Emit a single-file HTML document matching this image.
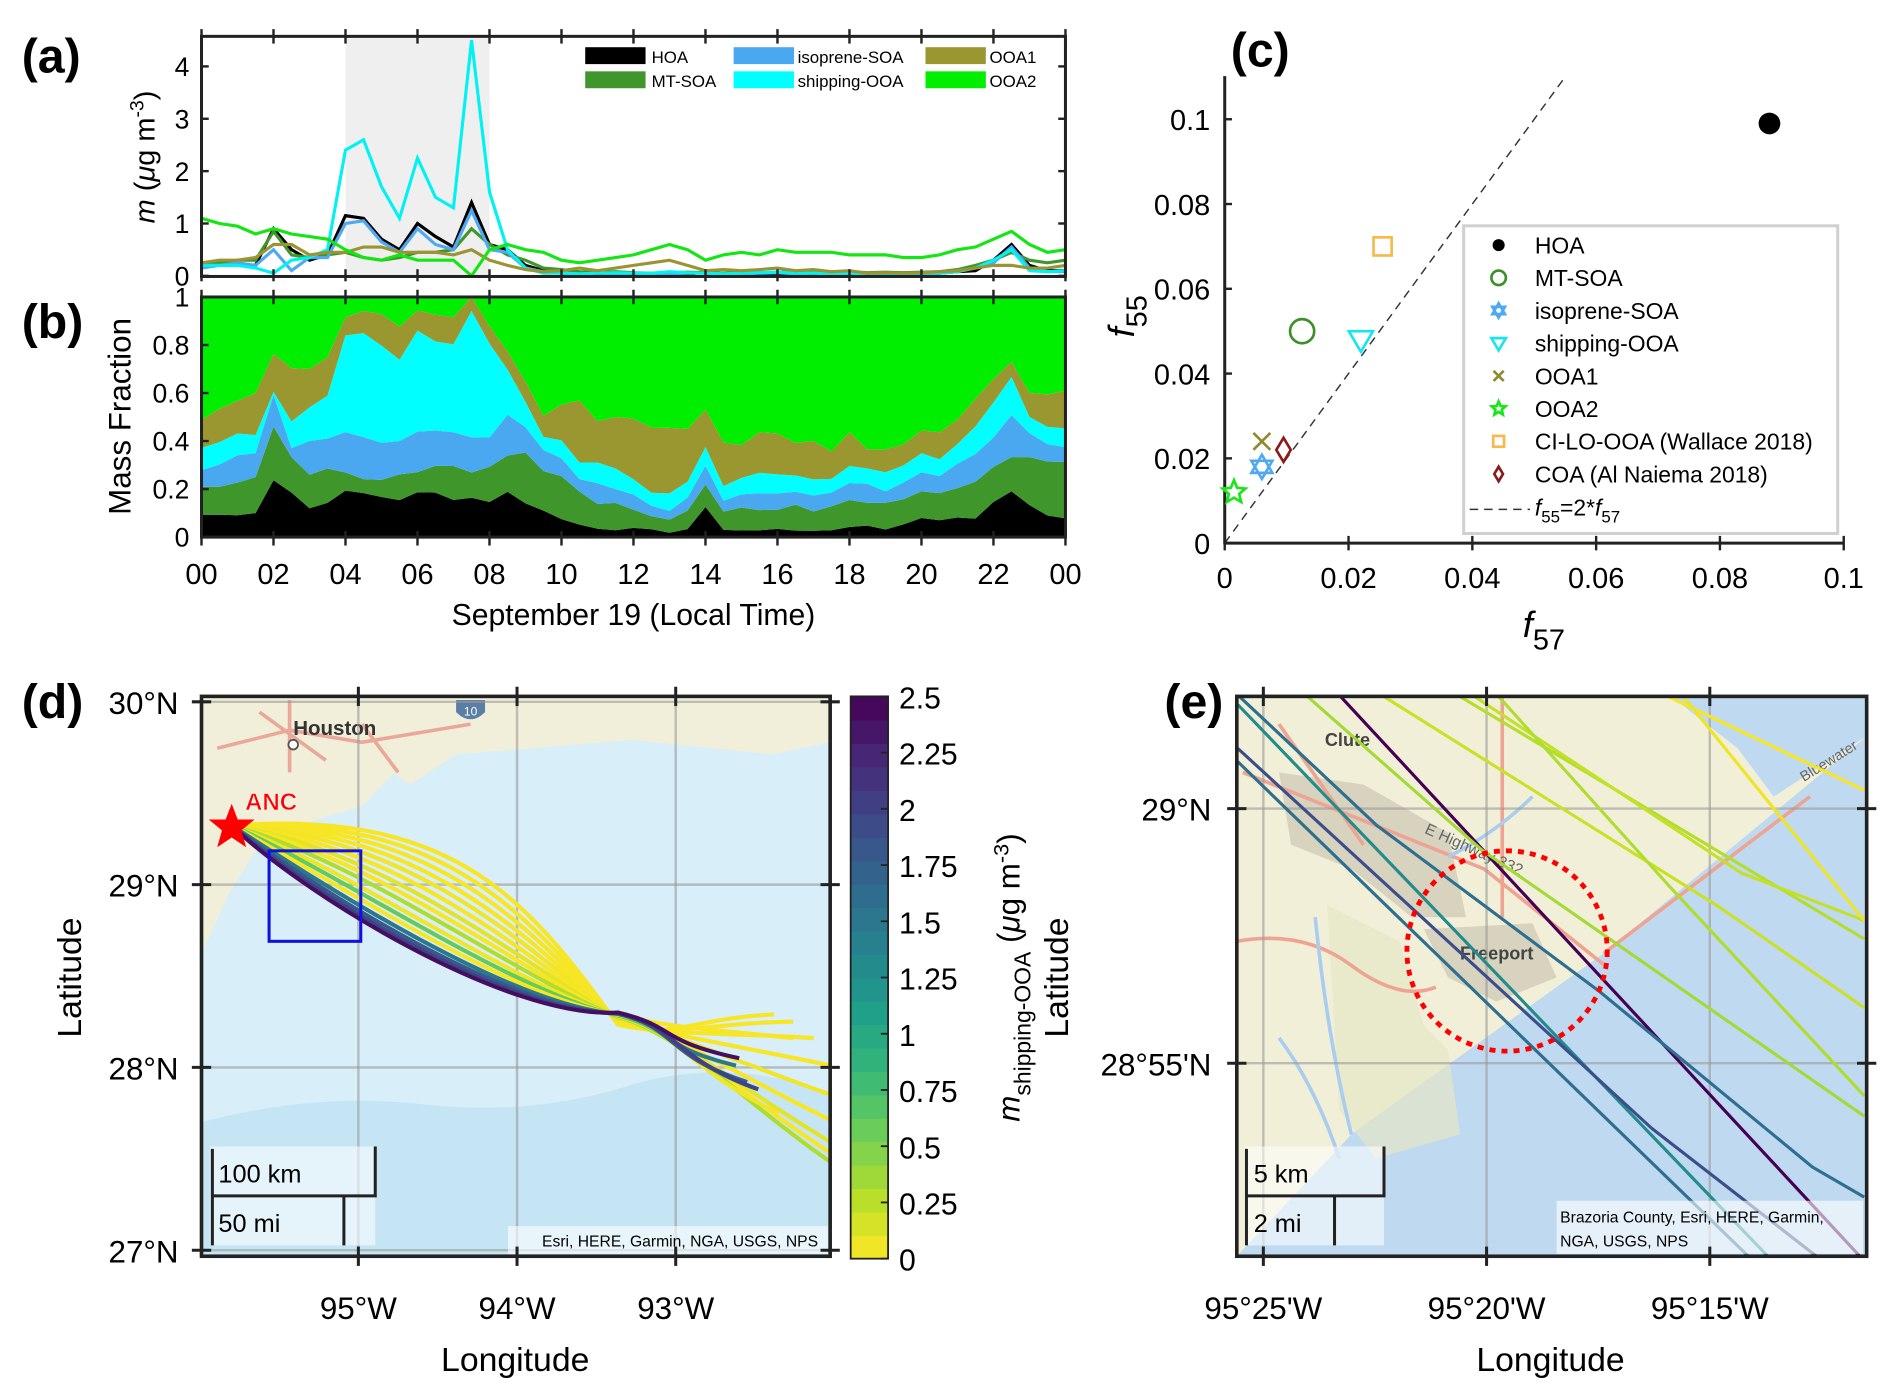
<!DOCTYPE html>
<html><head><meta charset="utf-8"><style>
html,body{margin:0;padding:0;background:#fff;}
svg{display:block;font-family:"Liberation Sans",sans-serif;}
.n{font-family:"Liberation Sans Narrow","Liberation Sans",sans-serif;}
</style></head><body>
<svg id="fig" xmlns="http://www.w3.org/2000/svg" width="1892" height="1400" viewBox="0 0 1568 1160">
<defs>
<clipPath id="clipA"><rect x="167" y="30" width="716" height="199"/></clipPath>
<clipPath id="clipB"><rect x="167" y="246" width="716" height="200"/></clipPath>
<clipPath id="clipD"><rect x="167" y="577" width="521" height="464"/></clipPath>
<clipPath id="clipE"><rect x="1025" y="577" width="522" height="464"/></clipPath>
</defs>
</svg>
<script>
const hours=[0,0.5,1,1.5,2,2.5,3,3.5,4,4.5,5,5.5,6,6.5,7,7.5,8,8.5,9,9.5,10,10.5,11,11.5,12,12.5,13,13.5,14,14.5,15,15.5,16,16.5,17,17.5,18,18.5,19,19.5,20,20.5,21,21.5,22,22.5,23,23.5,24];
const hoa=[0.2,0.2,0.2,0.2,0.9,0.5,0.3,0.4,1.15,1.1,0.7,0.5,1.0,0.75,0.55,1.4,0.6,0.5,0.2,0.1,0.05,0.03,0.02,0.02,0.03,0.03,0.02,0.03,0.08,0.02,0.02,0.02,0.03,0.02,0.02,0.02,0.03,0.03,0.02,0.03,0.05,0.05,0.08,0.1,0.3,0.6,0.2,0.1,0.1];
const mtsoa=[0.25,0.25,0.3,0.3,0.85,0.4,0.35,0.4,0.45,0.35,0.3,0.35,0.45,0.45,0.5,0.9,0.6,0.4,0.3,0.15,0.12,0.08,0.06,0.08,0.06,0.05,0.06,0.07,0.06,0.05,0.07,0.06,0.07,0.08,0.06,0.07,0.08,0.06,0.07,0.06,0.07,0.08,0.12,0.2,0.3,0.45,0.3,0.25,0.3];
const isosoa=[0.15,0.2,0.25,0.2,0.5,0.1,0.35,0.35,1.0,1.05,0.65,0.45,0.9,0.6,0.5,1.25,0.5,0.45,0.15,0.08,0.05,0.03,0.05,0.04,0.05,0.04,0.04,0.05,0.05,0.03,0.04,0.05,0.06,0.04,0.05,0.04,0.05,0.05,0.03,0.04,0.05,0.05,0.1,0.15,0.25,0.55,0.15,0.08,0.08];
const shipooa=[0.2,0.2,0.2,0.15,0.05,0.3,0.35,0.5,2.4,2.6,1.7,1.1,2.25,1.5,1.3,4.5,1.6,0.5,0.15,0.05,0.05,0.04,0.05,0.06,0.05,0.05,0.08,0.06,0.05,0.04,0.05,0.06,0.07,0.05,0.05,0.04,0.05,0.04,0.05,0.04,0.05,0.05,0.08,0.15,0.3,0.5,0.1,0.08,0.1];
const ooa1=[0.25,0.3,0.3,0.35,0.6,0.6,0.4,0.45,0.45,0.55,0.55,0.45,0.45,0.45,0.4,0.5,0.3,0.2,0.12,0.08,0.1,0.15,0.1,0.15,0.2,0.25,0.3,0.2,0.1,0.12,0.1,0.12,0.15,0.1,0.12,0.08,0.1,0.05,0.06,0.05,0.06,0.08,0.1,0.15,0.2,0.2,0.15,0.15,0.2];
const ooa2=[1.1,1.0,0.95,0.8,0.9,0.8,0.75,0.7,0.5,0.35,0.3,0.4,0.3,0.3,0.3,0.0,0.5,0.6,0.5,0.45,0.3,0.25,0.3,0.35,0.4,0.5,0.6,0.5,0.3,0.4,0.45,0.4,0.5,0.45,0.45,0.45,0.4,0.4,0.4,0.35,0.35,0.4,0.5,0.55,0.7,0.85,0.6,0.45,0.5];
const seriesNames=["HOA","MT-SOA","isoprene-SOA","shipping-OOA","OOA1","OOA2"];
const hourTicks=[0,2,4,6,8,10,12,14,16,18,20,22,24];
const hourLabels=["00","02","04","06","08","10","12","14","16","18","20","22","00"];
const massTicks=[0,1,2,3,4];
const fracTicks=[0,0.2,0.4,0.6,0.8,1];
const fracLabels=["0","0.2","0.4","0.6","0.8","1"];
// panel c
const cNames=["HOA","MT-SOA","isoprene-SOA","shipping-OOA","OOA1","OOA2","CI-LO-OOA (Wallace 2018)","COA (Al Naiema 2018)"];
const cF57=[0.088,0.0125,0.006,0.022,0.006,0.0015,0.0255,0.0095];
const cF55=[0.099,0.050,0.018,0.048,0.024,0.012,0.070,0.022];
const cTicks=[0,0.02,0.04,0.06,0.08,0.1];
const cLabels=["0","0.02","0.04","0.06","0.08","0.1"];
// panel d trajectories
const trajBulge=[1.0,0.92,0.84,0.76,0.68,0.6,0.52,0.45,0.38,0.3,0.24,0.18,0.12,0.07,0.03,0.0];
const trajEndLon=[-92.38,-92.26,-92.13,-92.02,-92.02,-92.02,-92.02,-92.02,-92.02,-92.35,-92.48,-92.26,-92.62,-92.55,-92.48,-92.6];
const trajEndLat=[28.29,28.25,28.16,28.01,27.85,27.71,27.59,27.53,27.48,27.75,27.88,28.16,28.01,27.92,27.88,28.05];
const trajConc=[0.02,0.02,0.03,0.02,0.05,0.02,0.1,0.02,0.3,0.05,0.6,0.02,1.5,1.8,2.0,2.4];
const cbTicks=[0,0.25,0.5,0.75,1,1.25,1.5,1.75,2,2.25,2.5];
const cbLabels=["0","0.25","0.5","0.75","1","1.25","1.5","1.75","2","2.25","2.5"];
// panel e lines: [minutes west of 95°, minutes rel. 29°N]
const eLonMin=[[23.3,11.59],[25.57,22.46,17.46,12.7,11.54],[25.57,13.65],[25.57,16.3,12.54],[25.57,14.08],[24.05,20.11,11.54],[22.35,14.81,11.54],[20.65,11.54],[20.32,14.3,11.54],[19.76,15.89,11.54],[16.0,11.54],[15.62,11.54]];
const eLatMin=[[2.23,-8.84],[2.23,-0.33,-3.6,-7.04,-7.63],[2.04,-8.84],[1.18,-6.28,-8.84],[0.92,-8.84],[2.23,-0.81,-6.04],[2.23,-1.92,-3.91],[2.23,-2.56],[2.23,-1.26,-2.2],[2.23,-1.54,-5.64],[2.23,0.36],[2.23,-2.2]];
const eConc=[2.5,1.6,1.3,1.9,1.6,0.35,0.2,0.28,0.22,0.3,0.02,0.06];

const svg=document.getElementById('fig');
const NS="http://www.w3.org/2000/svg";
function el(tag,attrs,parent,text){const e=document.createElementNS(NS,tag);for(const k in attrs)e.setAttribute(k,attrs[k]);if(text!==undefined)e.textContent=text;(parent||svg).appendChild(e);return e;}
function grp(name,parent){const g=el('g',{},parent);return g;}

const colors=["#000000","#3f962b","#4ea9f2","#00f2f2","#9a9432","#14e614"];
const fillColors=["#000000","#3f962b","#4aa8f0","#00ffff","#9a9630","#00ee00"];
const all=[hoa,mtsoa,isosoa,shipooa,ooa1,ooa2];

const X=h=>167+h/24*716;
const YA=v=>228.5-v*43.4;
const YB=v=>445-v*199;

const gA=grp('panel-a');
el('rect',{x:X(4),y:30,width:X(8)-X(4),height:199,fill:'#efefef'},gA);
all.forEach((s,i)=>{
 const pts=hours.map((h,j)=>X(h).toFixed(1)+','+YA(s[j]).toFixed(1)).join(' ');
 const p=el('polyline',{points:pts,fill:'none',stroke:colors[i],'stroke-width':2.6,'clip-path':'url(#clipA)'},gA);
 
 
});
el('rect',{x:167,y:30,width:716,height:199,fill:'none',stroke:'#222','stroke-width':2.5},gA);
massTicks.forEach(v=>{el('line',{x1:167,x2:173,y1:YA(v),y2:YA(v),stroke:'#222','stroke-width':2},gA);el('line',{x1:877,x2:883,y1:YA(v),y2:YA(v),stroke:'#222','stroke-width':2},gA);
 el('text',{x:157,y:YA(v)+8,'text-anchor':'end','font-size':22,class:'n'},gA,String(v));});
hourTicks.forEach(h=>{el('line',{x1:X(h),x2:X(h),y1:24,y2:36,stroke:'#222','stroke-width':2},gA);el('line',{x1:X(h),x2:X(h),y1:223,y2:233,stroke:'#222','stroke-width':2},gA);});
const yt=el('text',{transform:'translate(128,130) rotate(-90)','text-anchor':'middle','font-size':24},gA);

el('tspan',{'font-style':'italic'},yt,'m');el('tspan',{},yt,' (');el('tspan',{'font-style':'italic'},yt,'μ');el('tspan',{},yt,'g m');el('tspan',{dy:-9,'font-size':16},yt,'-3');el('tspan',{dy:9},yt,')');
const legA=grp('legend-a');
const legPos=[[485,540,47],[485,540,67],[608,661,47],[608,661,67],[767,820,47],[767,820,67]];
[0,1,2,3,4,5].forEach((si,k)=>{const p=legPos[k];
 el('rect',{x:p[0],y:p[2]-8,width:50,height:14,fill:fillColors[si]},legA);
 el('text',{x:p[1],y:p[2]+5,'font-size':14,class:'n'},legA,seriesNames[si]);});

const gB=grp('panel-b');
const cum=hours.map(()=>0);
const tot=hours.map((h,j)=>all.reduce((a,s)=>a+s[j],0));
all.forEach((s,i)=>{
 const low=cum.slice();
 hours.forEach((h,j)=>{cum[j]+=s[j]/tot[j];});
 let d='M'+hours.map((h,j)=>X(h).toFixed(1)+','+YB(cum[j]).toFixed(1)).join(' L');
 for(let j=hours.length-1;j>=0;j--)d+=' L'+X(hours[j]).toFixed(1)+','+YB(low[j]).toFixed(1);
 const p=el('path',{d:d+'Z',fill:fillColors[i],'clip-path':'url(#clipB)'},gB);
 
 
});
el('rect',{x:167,y:246,width:716,height:199,fill:'none',stroke:'#222','stroke-width':2.5},gB);
fracTicks.forEach((v,i)=>{el('line',{x1:167,x2:173,y1:YB(v),y2:YB(v),stroke:'#222','stroke-width':2},gB);
 el('text',{x:157,y:YB(v)+8,'text-anchor':'end','font-size':22,class:'n'},gB,fracLabels[i]);});
hourTicks.forEach((h,i)=>{el('line',{x1:X(h),x2:X(h),y1:240,y2:252,stroke:'#222','stroke-width':2},gB);el('line',{x1:X(h),x2:X(h),y1:440,y2:452,stroke:'#222','stroke-width':2},gB);
 el('text',{x:X(h),y:484,'text-anchor':'middle','font-size':24,class:'n'},gB,hourLabels[i]);});
el('text',{transform:'translate(108,345) rotate(-90)','text-anchor':'middle','font-size':26},gB,'Mass Fraction');
el('text',{x:525,y:518,'text-anchor':'middle','font-size':25},gB,'September 19 (Local Time)');

const gC=grp('panel-c');
const CX=v=>1015+v*5130, CY=v=>450-v*3513;
el('line',{x1:CX(0),y1:CY(0),x2:CX(0.0546),y2:CY(0.1092),stroke:'#333','stroke-width':1.2,'stroke-dasharray':'7,5'},gC);
el('line',{x1:1015,y1:63,x2:1015,y2:451,stroke:'#222','stroke-width':2.5},gC);
el('line',{x1:1014,y1:450,x2:1528,y2:450,stroke:'#222','stroke-width':2.5},gC);
cTicks.forEach((v,i)=>{el('line',{x1:1015,x2:1021,y1:CY(v),y2:CY(v),stroke:'#222','stroke-width':2},gC);
 el('text',{x:1003,y:CY(v)+9,'text-anchor':'end','font-size':24,class:'n'},gC,cLabels[i]);
 el('line',{x1:CX(v),x2:CX(v),y1:444,y2:456,stroke:'#222','stroke-width':2},gC);
 el('text',{x:CX(v),y:487,'text-anchor':'middle','font-size':24,class:'n'},gC,cLabels[i]);});
const xc=el('text',{x:1262,y:528,'font-size':30,'font-style':'italic'},gC,'f');el('tspan',{dy:10,'font-size':24,'font-style':'normal'},xc,'57');
const ycx=el('text',{transform:'translate(940,262) rotate(-90)','font-size':30,'font-style':'italic','text-anchor':'middle'},gC,'f');el('tspan',{dy:10,'font-size':24,'font-style':'normal'},ycx,'55');
const markerCol=["#000","#3c8f2a","#4ea9f2","#19e5f0","#8f8a2e","#19e619","#f6b94a","#8b1a1a"];
function marker(i,x,y,s,parent){const c=markerCol[i];const a={fill:'none',stroke:c,'stroke-width':2.2};let m;
 if(i==0)m=el('circle',{cx:x,cy:y,r:s,fill:c},parent);
 else if(i==1)m=el('circle',Object.assign({cx:x,cy:y,r:s},a),parent);
 else if(i==2)m=el('path',Object.assign({d:`M${x},${y-s}L${x+s*0.87},${y+s/2}L${x-s*0.87},${y+s/2}Z M${x},${y+s}L${x+s*0.87},${y-s/2}L${x-s*0.87},${y-s/2}Z`},a),parent);
 else if(i==3)m=el('path',Object.assign({d:`M${x-s},${y-s*0.7}L${x+s},${y-s*0.7}L${x},${y+s}Z`},a),parent);
 else if(i==4)m=el('path',Object.assign({d:`M${x-s*0.7},${y-s*0.7}L${x+s*0.7},${y+s*0.7}M${x+s*0.7},${y-s*0.7}L${x-s*0.7},${y+s*0.7}`},a),parent);
 else if(i==5){let d='';for(let k=0;k<10;k++){const r=k%2?s*0.45:s;const an=-Math.PI/2+k*Math.PI/5;d+=(k?'L':'M')+(x+r*Math.cos(an)).toFixed(1)+','+(y+r*Math.sin(an)).toFixed(1);}m=el('path',Object.assign({d:d+'Z'},a),parent);}
 else if(i==6)m=el('rect',Object.assign({x:x-s*0.75,y:y-s*0.75,width:s*1.5,height:s*1.5},a),parent);
 else m=el('path',Object.assign({d:`M${x},${y-s}L${x+s*0.6},${y}L${x},${y+s}L${x-s*0.6},${y}Z`},a),parent);
 return m;}
cNames.forEach((n,i)=>{const m=marker(i,CX(cF57[i]),CY(cF55[i]),i==0?9:10,gC);
 
 });
const legC=grp('legend-c',gC);
el('rect',{x:1213,y:187,width:310,height:255,fill:'#fff',stroke:'#d0d0d0','stroke-width':2.5},legC);
cNames.forEach((n,i)=>{const y=203+i*27.1;marker(i,1242,y,i==0?5:6,legC);el('text',{x:1272,y:y+7,'font-size':19},legC,n);});
el('line',{x1:1218,x2:1268,y1:422,y2:422,stroke:'#333','stroke-width':1.2,'stroke-dasharray':'7,5'},legC);
const lt=el('text',{x:1272,y:427,'font-size':19,'font-style':'italic'},legC,'f');
el('tspan',{dy:6,'font-size':14,'font-style':'normal'},lt,'55');el('tspan',{dy:-6,'font-style':'normal'},lt,'=2*');el('tspan',{},lt,'f');el('tspan',{dy:6,'font-size':14,'font-style':'normal'},lt,'57');

const vir=["#440154","#482878","#3e4989","#31688e","#26828e","#1f9e89","#35b779","#6ece58","#b5de2b","#fde725"];
function hex(c){return [1,3,5].map(k=>parseInt(c.substr(k,2),16));}
function viridis(v){let t=1-Math.min(Math.max(v/2.5,0),1);t*=9;const i=Math.min(Math.floor(t),8),f=t-i;const a=hex(vir[i]),b=hex(vir[i+1]);return 'rgb('+a.map((x,k)=>Math.round(x+(b[k]-x)*f)).join(',')+')';}

const DX=lon=>297+(lon+95)*131.5, DY=lat=>733-(lat-29)*151.5;
const gD=grp('panel-d');
const mapD=grp('map-d',gD);mapD.setAttribute('clip-path','url(#clipD)');
el('rect',{x:167,y:577,width:521,height:464,fill:'#d8eef8'},mapD);
el('path',{d:'M167,930 Q260,905 350,915 T520,900 T688,905 L688,1041 L167,1041Z',fill:'#c5e5f5'},mapD);
el('path',{d:'M167,577 L688,577 L688,615 L640,625 L581,619 L523,613 L453,619 L378,625 L340,650 L326,641 L300,668 L260,680 L215,700 L190,740 L169,786 L167,786Z',fill:'#f1efd9'},mapD);
el('path',{d:'M300,600 L330,640 M240,605 L180,620 M240,605 L300,615 L390,600 M240,580 L240,640 M215,590 L270,630',stroke:'#eaa89a','stroke-width':3,fill:'none'},mapD);
el('circle',{cx:243,cy:617,r:4,fill:'#fff',stroke:'#555','stroke-width':1.5},mapD);
el('text',{x:243,y:609,'font-size':17,'font-weight':'bold',fill:'#333'},mapD,'Houston');
el('path',{d:'M378,580 L402,580 L402,590 Q390,602 378,590Z',fill:'#5b7ea6'},mapD);
el('text',{x:390,y:593,'font-size':10,fill:'#fff','text-anchor':'middle'},mapD,'10');
[-95,-94,-93].forEach(l=>el('line',{x1:DX(l),x2:DX(l),y1:577,y2:1041,stroke:'#999','stroke-opacity':0.6,'stroke-width':2},mapD));
[30,29,28,27].forEach(l=>el('line',{x1:167,x2:688,y1:DY(l),y2:DY(l),stroke:'#999','stroke-opacity':0.6,'stroke-width':2},mapD));
const S={x:192,y:684},M={x:512,y:844};
trajBulge.forEach((b,i)=>{const ex=DX(trajEndLon[i]),ey=DY(trajEndLat[i]);
 const my=M.y+(b-0.5)*10;
 const d=`M${S.x},${S.y} C${250+130*b},${740-70*b} ${420+20*b},${845-95*b} ${M.x},${my} C${M.x+50},${my+12} ${ex-70},${ey-(ey-my)*0.4} ${ex},${ey}`;
 const p=el('path',{d:d,fill:'none',stroke:viridis(trajConc[i]),'stroke-width':3.4},mapD);
 
 });
el('rect',{x:223,y:705,width:76,height:75,fill:'none',stroke:'#1010e0','stroke-width':2.5},mapD);
el('path',{d:'M192,666 L197,679 L211,679 L200,688 L204,702 L192,694 L180,702 L184,688 L173,679 L187,679Z',fill:'#f00'},gD);
el('text',{x:203,y:671,'font-size':20,'font-weight':'bold',fill:'#f00',stroke:'#fff','stroke-width':0.5},gD,'ANC');
el('rect',{x:174,y:950,width:137,height:82,fill:'#fff','fill-opacity':0.55},mapD);
el('path',{d:'M176,952 L176,1032 M176,991 L311,991 L311,950 M176,991 L285,991 L285,1032',stroke:'#222','stroke-width':2.5,fill:'none'},mapD);
el('text',{x:181,y:980,'font-size':21},mapD,'100 km');el('text',{x:181,y:1021,'font-size':21},mapD,'50 mi');
el('rect',{x:421,y:1016,width:265,height:23,fill:'#fff','fill-opacity':0.6},mapD);
el('text',{x:678,y:1033,'font-size':13,'text-anchor':'end',class:'n'},mapD,'Esri, HERE, Garmin, NGA, USGS, NPS');
el('rect',{x:167,y:577,width:521,height:464,fill:'none',stroke:'#222','stroke-width':3},gD);
[[-95,'95°W'],[-94,'94°W'],[-93,'93°W']].forEach(t=>{el('line',{x1:DX(t[0]),x2:DX(t[0]),y1:569,y2:585,stroke:'#222','stroke-width':2.5},gD);el('line',{x1:DX(t[0]),x2:DX(t[0]),y1:1033,y2:1049,stroke:'#222','stroke-width':2.5},gD);
 el('text',{x:DX(t[0]),y:1093,'text-anchor':'middle','font-size':26,class:'n'},gD,t[1]);});
[[30,'30°N'],[29,'29°N'],[28,'28°N'],[27,'27°N']].forEach(t=>{el('line',{x1:159,x2:175,y1:DY(t[0]),y2:DY(t[0]),stroke:'#222','stroke-width':2.5},gD);el('line',{x1:680,x2:696,y1:DY(t[0]),y2:DY(t[0]),stroke:'#222','stroke-width':2.5},gD);
 el('text',{x:148,y:DY(t[0])+10,'text-anchor':'end','font-size':26,class:'n'},gD,t[1]);});
el('text',{x:427,y:1136,'text-anchor':'middle','font-size':28},gD,'Longitude');
el('text',{transform:'translate(67,810) rotate(-90)','text-anchor':'middle','font-size':28},gD,'Latitude');
const gCb=grp('colorbar');
const CBY=v=>1043-v/2.5*466;
for(let k=0;k<24;k++){const v0=k*2.5/24,v1=(k+1)*2.5/24;el('rect',{x:705,y:CBY(v1),width:31,height:CBY(v0)-CBY(v1)+0.6,fill:viridis((v0+v1)/2)},gCb);}
el('rect',{x:705,y:577,width:31,height:466,fill:'none',stroke:'#222','stroke-width':1.5},gCb);
cbTicks.forEach((v,i)=>{el('line',{x1:730,x2:736,y1:CBY(v),y2:CBY(v),stroke:'#222','stroke-width':1.5},gCb);el('text',{x:745,y:CBY(v)+10,'font-size':25,class:'n'},gCb,cbLabels[i]);});
const cbt=el('text',{transform:'translate(845,810) rotate(-90)','text-anchor':'middle','font-size':26},gCb);
el('tspan',{'font-style':'italic'},cbt,'m');el('tspan',{dy:9,'font-size':19},cbt,'shipping-OOA');el('tspan',{dy:-9},cbt,' (');el('tspan',{'font-style':'italic'},cbt,'μ');el('tspan',{},cbt,'g m');el('tspan',{dy:-9,'font-size':18},cbt,'-3');el('tspan',{dy:9},cbt,')');

const EX=m=>1232-(m-20)*37, EY=m=>670-m*42.2;
const gE=grp('panel-e');
const mapE=grp('map-e',gE);mapE.setAttribute('clip-path','url(#clipE)');
el('rect',{x:1025,y:577,width:522,height:464,fill:'#f2efd8'},mapE);
el('path',{d:'M1025,1041 L1121,939 L1329,790 L1450,690 L1547,610 L1547,1041Z',fill:'#bfd9f0'},mapE);
el('path',{d:'M1385,577 L1547,577 L1547,610 L1470,660 L1440,620Z',fill:'#bfd9f0'},mapE);
el('path',{d:'M1060,640 L1130,650 L1200,690 L1215,760 L1170,760 L1120,720 L1070,700Z',fill:'#d7d3bf'},mapE);
el('path',{d:'M1180,770 L1270,765 L1290,810 L1240,830 L1200,810Z',fill:'#d7d3bf'},mapE);
el('path',{d:'M1100,750 L1160,780 L1180,850 L1200,870 L1210,940 L1140,960 L1110,920Z',fill:'#e6e7c6','fill-opacity':0.7},mapE);
el('path',{d:'M1025,780 Q1080,770 1120,800 T1190,818 M1030,640 L1230,720 L1330,800 M1060,600 L1130,700 M1245,577 L1245,760 M1329,790 L1500,660',stroke:'#eea492','stroke-width':3,fill:'none'},mapE);
el('path',{d:'M1090,760 Q1100,860 1120,940 M1200,710 Q1240,690 1270,660 M1060,860 Q1090,900 1110,960',stroke:'#a9cdee','stroke-width':3,fill:'none'},mapE);
el('text',{x:1098,y:618,'font-size':15,'font-weight':'bold',fill:'#444'},mapE,'Clute');
el('text',{x:1210,y:795,'font-size':15,'font-weight':'bold',fill:'#444'},mapE,'Freeport');
el('text',{transform:'translate(1180,690) rotate(24)','font-size':13,fill:'#666'},mapE,'E Highway 332');
el('text',{transform:'translate(1495,648) rotate(-32)','font-size':12,fill:'#666'},mapE,'Bluewater');
[25,20,15].forEach(m=>el('line',{x1:EX(m),x2:EX(m),y1:577,y2:1041,stroke:'#999','stroke-opacity':0.6,'stroke-width':2},mapE));
[0,-5].forEach(m=>el('line',{x1:1025,x2:1547,y1:EY(m),y2:EY(m),stroke:'#999','stroke-opacity':0.6,'stroke-width':2},mapE));
eLonMin.forEach((lons,i)=>{const pts=lons.map((m,k)=>EX(m).toFixed(1)+','+EY(eLatMin[i][k]).toFixed(1)).join(' ');
 const p=el('polyline',{points:pts,fill:'none',stroke:viridis(eConc[i]),'stroke-width':2.6},mapE);
 
 });
el('circle',{cx:1249,cy:788,r:83,fill:'none',stroke:'#f00','stroke-width':4,'stroke-dasharray':'5,5'},mapE);
el('rect',{x:1031,y:950,width:116,height:82,fill:'#fff','fill-opacity':0.55},mapE);
el('path',{d:'M1033,952 L1033,1032 M1033,991 L1147,991 L1147,950 M1033,991 L1106,991 L1106,1032',stroke:'#222','stroke-width':2.5,fill:'none'},mapE);
el('text',{x:1039,y:980,'font-size':21},mapE,'5 km');el('text',{x:1039,y:1021,'font-size':21},mapE,'2 mi');
el('rect',{x:1290,y:995,width:254,height:44,fill:'#fff','fill-opacity':0.6},mapE);
el('text',{x:1293,y:1013,'font-size':13},mapE,'Brazoria County, Esri, HERE, Garmin,');
el('text',{x:1293,y:1033,'font-size':13},mapE,'NGA, USGS, NPS');
el('rect',{x:1025,y:577,width:522,height:464,fill:'none',stroke:'#222','stroke-width':3},gE);
[[25,"95°25'W"],[20,"95°20'W"],[15,"95°15'W"]].forEach(t=>{el('line',{x1:EX(t[0]),x2:EX(t[0]),y1:569,y2:585,stroke:'#222','stroke-width':2.5},gE);el('line',{x1:EX(t[0]),x2:EX(t[0]),y1:1033,y2:1049,stroke:'#222','stroke-width':2.5},gE);
 el('text',{x:EX(t[0]),y:1093,'text-anchor':'middle','font-size':26,class:'n'},gE,t[1]);});
[[0,"29°N"],[-5,"28°55'N"]].forEach(t=>{el('line',{x1:1017,x2:1033,y1:EY(t[0]),y2:EY(t[0]),stroke:'#222','stroke-width':2.5},gE);el('line',{x1:1539,x2:1555,y1:EY(t[0]),y2:EY(t[0]),stroke:'#222','stroke-width':2.5},gE);
 el('text',{x:1004,y:EY(t[0])+10,'text-anchor':'end','font-size':26,class:'n'},gE,t[1]);});
el('text',{x:1285,y:1136,'text-anchor':'middle','font-size':28},gE,'Longitude');
el('text',{transform:'translate(885,810) rotate(-90)','text-anchor':'middle','font-size':28},gE,'Latitude');

[['(a)',18,60],['(b)',18,280],['(c)',1020,55],['(d)',18,595],['(e)',965,595]].forEach(t=>{const e=el('text',{x:t[1],y:t[2],'font-size':40,'font-weight':'bold'},svg,t[0]);});
</script>
</body></html>
